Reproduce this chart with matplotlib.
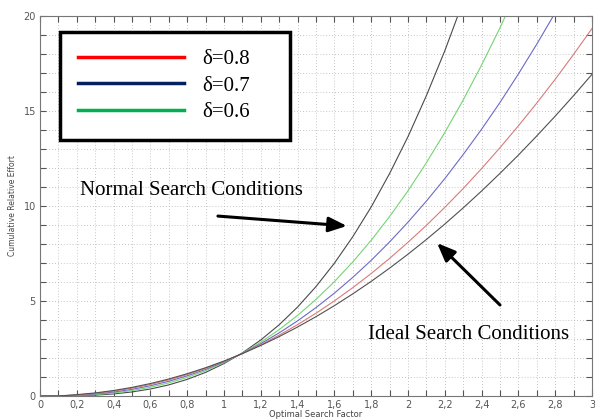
import numpy as np
import matplotlib
matplotlib.use("Agg")
import matplotlib.pyplot as plt
from matplotlib.lines import Line2D
from matplotlib.ticker import MultipleLocator, FuncFormatter

# optimal search factor grid
x = [0.0, 0.1, 0.2, 0.3, 0.4, 0.5, 0.6, 0.7, 0.8, 0.9, 1.0,
     1.1, 1.2, 1.3, 1.4, 1.5, 1.6, 1.7, 1.8, 1.9, 2.0,
     2.1, 2.2, 2.3, 2.4, 2.5, 2.6, 2.7, 2.8, 2.9, 3.0]

# cumulative relative effort, normal search conditions (upper bound)
effort_normal = [0, 0, 0.014, 0.046, 0.109, 0.213, 0.369, 0.585, 0.874, 1.244, 1.707,
                 2.271, 2.950, 3.750, 4.683, 5.760, 6.990, 8.385, 9.95, 11.71, 13.65,
                 15.81, 18.17, 20.77]
# delta = 0.6
effort_d06 = [0, 0, 0.026, 0.075, 0.159, 0.286, 0.461, 0.690, 0.979, 1.334, 1.757,
              2.255, 2.834, 3.494, 4.244, 5.085, 6.020, 7.058, 8.198, 9.445, 10.80,
              12.28, 13.87, 15.58, 17.42, 19.38, 21.48]
# delta = 0.7
effort_d07 = [0, 0, 0.041, 0.106, 0.208, 0.352, 0.540, 0.776, 1.062, 1.401, 1.794,
              2.245, 2.754, 3.324, 3.956, 4.653, 5.414, 6.244, 7.140, 8.110, 9.148,
              10.26, 11.44, 12.71, 14.04, 15.45, 16.95, 18.52, 20.17]
# delta = 0.8
effort_d08 = [0, 0, 0.057, 0.137, 0.254, 0.410, 0.608, 0.846, 1.128, 1.453, 1.822,
              2.236, 2.696, 3.203, 3.756, 4.357, 5.005, 5.703, 6.447, 7.243, 8.089,
              8.983, 9.927, 10.92, 11.97, 13.07, 14.22, 15.42, 16.67, 17.98, 19.34]
# ideal search conditions (lower bound)
effort_ideal = [0, 0, 0.071, 0.162, 0.289, 0.454, 0.656, 0.895, 1.173, 1.488, 1.840,
                2.231, 2.660, 3.127, 3.632, 4.175, 4.756, 5.376, 6.033, 6.730, 7.464,
                8.237, 9.049, 9.901, 10.79, 11.72, 12.68, 13.69, 14.73, 15.81, 16.93]

legend_labels = ['\u03b4=0.8', '\u03b4=0.7', '\u03b4=0.6']

fig = plt.figure(figsize=(5.95, 4.19), dpi=100)
ax = fig.add_axes([40/595, 23/419, 552/595, 380/419])

ax.plot(x[:len(effort_normal)], effort_normal, color='#4a4a4a', lw=0.8)
ax.plot(x[:len(effort_d06)], effort_d06, color='#74d474', lw=0.8)
ax.plot(x[:len(effort_d07)], effort_d07, color='#6a6ac8', lw=0.8)
ax.plot(x[:len(effort_d08)], effort_d08, color='#d87a7a', lw=0.8)
ax.plot(x[:len(effort_ideal)], effort_ideal, color='#505050', lw=0.8)

ax.set_xlim(0, 3)
ax.set_ylim(0, 20)

# matlab-like axes: ticks inside on every side, dotted grid
ax.xaxis.set_major_locator(MultipleLocator(0.2))
ax.xaxis.set_minor_locator(MultipleLocator(0.1))
ax.yaxis.set_major_locator(MultipleLocator(5))
ax.yaxis.set_minor_locator(MultipleLocator(1))
ax.xaxis.set_major_formatter(FuncFormatter(lambda v, p: ('%g' % round(v, 1)).replace('.', ',')))
ax.tick_params(which='both', direction='in', top=True, right=True,
               length=4, width=0.8, color='#555555',
               labelsize=7, labelcolor='#555555', pad=3)
ax.grid(which='both', color='#b4b4b4', ls=(0, (1, 2.5)), lw=0.6)
for s in ax.spines.values():
    s.set_color('#777777')
    s.set_linewidth(0.8)

ax.set_xlabel('Optimal Search Factor', fontsize=6, color='#444444', labelpad=0)
ax.set_ylabel('Cumulative Relative Effort', fontsize=5.5, color='#444444', labelpad=5)

# legend with thick sample lines
handles = [Line2D([], [], color='#ff0000', lw=2.5),
           Line2D([], [], color='#002060', lw=2.5),
           Line2D([], [], color='#00b050', lw=2.5)]
leg = ax.legend(handles, legend_labels, loc='upper left',
                bbox_to_anchor=(0.036, 0.679, 0.417, 0.279), mode='expand',
                borderaxespad=0, borderpad=0.85, handlelength=5.1, handletextpad=0.9,
                labelspacing=0.33, fancybox=False, framealpha=1,
                prop={'family': 'Liberation Serif', 'size': 15})
leg.get_frame().set_edgecolor('black')
leg.get_frame().set_linewidth(2.5)

serif = {'family': 'Liberation Serif', 'size': 15}
ax.text(0.217, 10.84, 'Normal Search Conditions', ha='left', va='center', fontdict=serif)
ax.text(1.78, 3.25, 'Ideal Search Conditions', ha='left', va='center', fontdict=serif)

arrow = dict(arrowstyle='-|>,head_length=1.1,head_width=0.45', color='black',
             lw=2.2, shrinkA=0, shrinkB=0)
ax.annotate('', xy=(1.668, 8.95), xytext=(0.967, 9.47), arrowprops=arrow)
ax.annotate('', xy=(2.158, 8.05), xytext=(2.5, 4.79), arrowprops=arrow)

fig.savefig('out.png', dpi=100, facecolor='white')
